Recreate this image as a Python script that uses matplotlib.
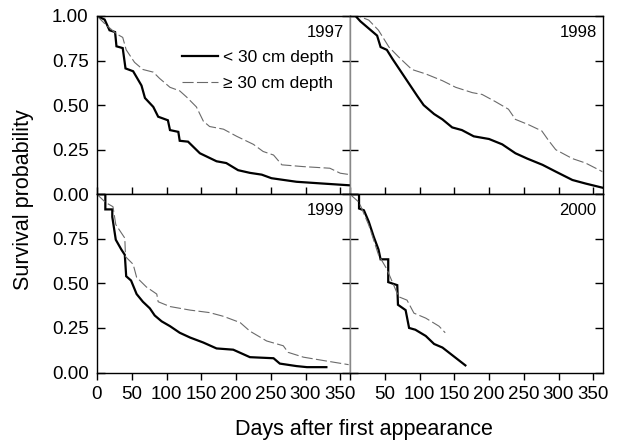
import matplotlib
matplotlib.use("Agg")
import matplotlib.pyplot as plt

plt.rcParams['font.family'] = ['Liberation Sans', 'DejaVu Sans']

# ---------------- data ----------------
years = ["1997", "1998", "1999", "2000"]
series_labels = ["< 30 cm depth", "\u2265 30 cm depth"]
x_ticks = [0, 50, 100, 150, 200, 250, 300, 350]
y_ticks = [0.0, 0.25, 0.5, 0.75, 1.0]
y_tick_labels = ["0.00", "0.25", "0.50", "0.75", "1.00"]

# 1997
shallow_1997_days = [0, 11, 18, 26, 28, 37, 41, 52, 64, 69, 81, 88, 102, 105, 117, 119, 131,
                     148, 172, 186, 203, 220, 237, 251, 287, 325, 364]
shallow_1997_surv = [1.0, 0.98, 0.92, 0.91, 0.83, 0.82, 0.706, 0.69, 0.61, 0.54, 0.49, 0.435,
                     0.415, 0.36, 0.35, 0.30, 0.295, 0.23, 0.185, 0.175, 0.135, 0.12, 0.11,
                     0.09, 0.07, 0.06, 0.05]
deep_1997_days = [0, 13, 28, 37, 42, 54, 66, 81, 90, 105, 119, 129, 143, 153, 162, 182, 201,
                  225, 239, 254, 266, 297, 335, 350, 364]
deep_1997_surv = [1.0, 0.95, 0.90, 0.88, 0.81, 0.74, 0.70, 0.685, 0.65, 0.60, 0.58, 0.545,
                  0.49, 0.41, 0.38, 0.365, 0.325, 0.28, 0.24, 0.22, 0.165, 0.155, 0.146,
                  0.118, 0.11]

# 1998
shallow_1998_days = [0, 8, 15, 27, 39, 44, 53, 61, 73, 85, 97, 106, 121, 133, 147, 161, 178,
                     200, 219, 238, 255, 277, 296, 320, 339, 363]
shallow_1998_surv = [1.0, 1.0, 0.97, 0.93, 0.89, 0.826, 0.81, 0.76, 0.69, 0.62, 0.55, 0.50,
                     0.45, 0.42, 0.375, 0.36, 0.325, 0.31, 0.28, 0.23, 0.20, 0.165, 0.127,
                     0.08, 0.06, 0.037]
deep_1998_days = [0, 12, 27, 41, 56, 70, 89, 109, 133, 152, 176, 190, 209, 228, 238, 257,
                  276, 286, 296, 320, 339, 363]
deep_1998_surv = [1.0, 1.0, 0.977, 0.92, 0.826, 0.77, 0.70, 0.675, 0.637, 0.60, 0.57, 0.56,
                  0.52, 0.477, 0.42, 0.39, 0.355, 0.30, 0.25, 0.20, 0.175, 0.127]

# 1999
shallow_1999_days = [0, 12, 12, 22, 22, 27, 35, 40, 42, 49, 57, 66, 76, 83, 93, 105, 119, 134,
                     153, 172, 196, 220, 254, 263, 287, 302, 330]
shallow_1999_surv = [1.0, 1.0, 0.915, 0.915, 0.873, 0.745, 0.69, 0.66, 0.54, 0.516, 0.44,
                     0.397, 0.36, 0.32, 0.287, 0.26, 0.223, 0.196, 0.168, 0.135, 0.128, 0.086,
                     0.08, 0.05, 0.036, 0.03, 0.03]
deep_1999_days = [0, 12, 23, 27, 40, 41, 52, 57, 71, 86, 88, 105, 134, 162, 182, 206, 220,
                  244, 268, 275, 297, 326, 362]
deep_1999_surv = [1.0, 0.955, 0.93, 0.83, 0.754, 0.65, 0.607, 0.534, 0.48, 0.44, 0.397, 0.37,
                  0.35, 0.336, 0.315, 0.28, 0.232, 0.177, 0.15, 0.113, 0.086, 0.067, 0.044]

# 2000
shallow_2000_days = [0, 13, 13, 20, 27, 34, 41, 44, 55, 55, 68, 69, 80, 85, 94, 109, 121,
                     133, 166]
shallow_2000_surv = [1.0, 1.0, 0.92, 0.91, 0.846, 0.763, 0.69, 0.635, 0.635, 0.507, 0.49,
                     0.38, 0.35, 0.25, 0.24, 0.205, 0.16, 0.14, 0.04]
deep_2000_days = [0, 13, 27, 41, 53, 70, 82, 92, 109, 128, 137]
deep_2000_surv = [1.0, 0.955, 0.827, 0.66, 0.58, 0.425, 0.406, 0.333, 0.305, 0.26, 0.223]

shallow = {
    "1997": (shallow_1997_days, shallow_1997_surv),
    "1998": (shallow_1998_days, shallow_1998_surv),
    "1999": (shallow_1999_days, shallow_1999_surv),
    "2000": (shallow_2000_days, shallow_2000_surv),
}
deep = {
    "1997": (deep_1997_days, deep_1997_surv),
    "1998": (deep_1998_days, deep_1998_surv),
    "1999": (deep_1999_days, deep_1999_surv),
    "2000": (deep_2000_days, deep_2000_surv),
}

# ---------------- figure ----------------
W, H = 619, 443
fig = plt.figure(figsize=(W / 100, H / 100), dpi=100)
gs = fig.add_gridspec(2, 2, left=97 / W, right=603 / W, top=1 - 16 / H,
                      bottom=1 - 372.5 / H, hspace=0, wspace=0)

grey = "#6a6a6a"
TICK_FS = 13.5

for i, yr in enumerate(years):
    r, c = divmod(i, 2)
    ax = fig.add_subplot(gs[r, c])
    d, s = shallow[yr]
    ax.plot(d, s, color="black", lw=1.6, solid_joinstyle="miter",
            label=series_labels[0])
    d2, s2 = deep[yr]
    ax.plot(d2, s2, color=grey, lw=0.8, dashes=(10, 3), label=series_labels[1])

    ax.set_xlim(0, 364)
    ax.set_ylim(0, 1.0)
    ax.set_xticks(x_ticks)
    ax.set_yticks(y_ticks)

    for sp in ax.spines.values():
        sp.set_linewidth(1.0)
        sp.set_color("black")
    if c == 1:
        ax.spines["left"].set_color("#888888")

    ax.tick_params(axis="y", direction="in", left=True, right=True, length=5.5,
                   width=1.0, labelsize=TICK_FS, pad=6)
    if r == 0:
        ax.tick_params(axis="x", direction="in", bottom=True, top=False, length=5,
                       width=1.0, labelbottom=False)
    else:
        ax.tick_params(axis="x", direction="out", bottom=True, top=False, length=5,
                       width=1.0, labelsize=TICK_FS, pad=5)
        if c == 0:
            ax.set_xticklabels([str(t) for t in x_ticks])
        else:
            ax.set_xticklabels([""] + [str(t) for t in x_ticks[1:]])

    if c == 0:
        if r == 0:
            ax.set_yticklabels(y_tick_labels)
        else:
            ax.set_yticklabels(y_tick_labels[:-1] + [""])
    else:
        ax.tick_params(axis="y", labelleft=False)

    ax.text(0.975, 0.91, yr, transform=ax.transAxes, ha="right", va="center",
            fontsize=12)

    if i == 0:
        ax.legend(loc="upper left", bbox_to_anchor=(0.335, 0.81), frameon=False,
                  fontsize=12.5, handlelength=2.1, handletextpad=0.3,
                  labelspacing=0.6, borderpad=0, borderaxespad=0)

fig.text(24 / W, 1 - 200 / H, "Survival probability", rotation=90, ha="center",
         va="center", fontsize=15.5)
fig.text(364 / W, 1 - 430 / H, "Days after first appearance", ha="center",
         va="center", fontsize=15.5)

fig.savefig("out.png", dpi=100)
